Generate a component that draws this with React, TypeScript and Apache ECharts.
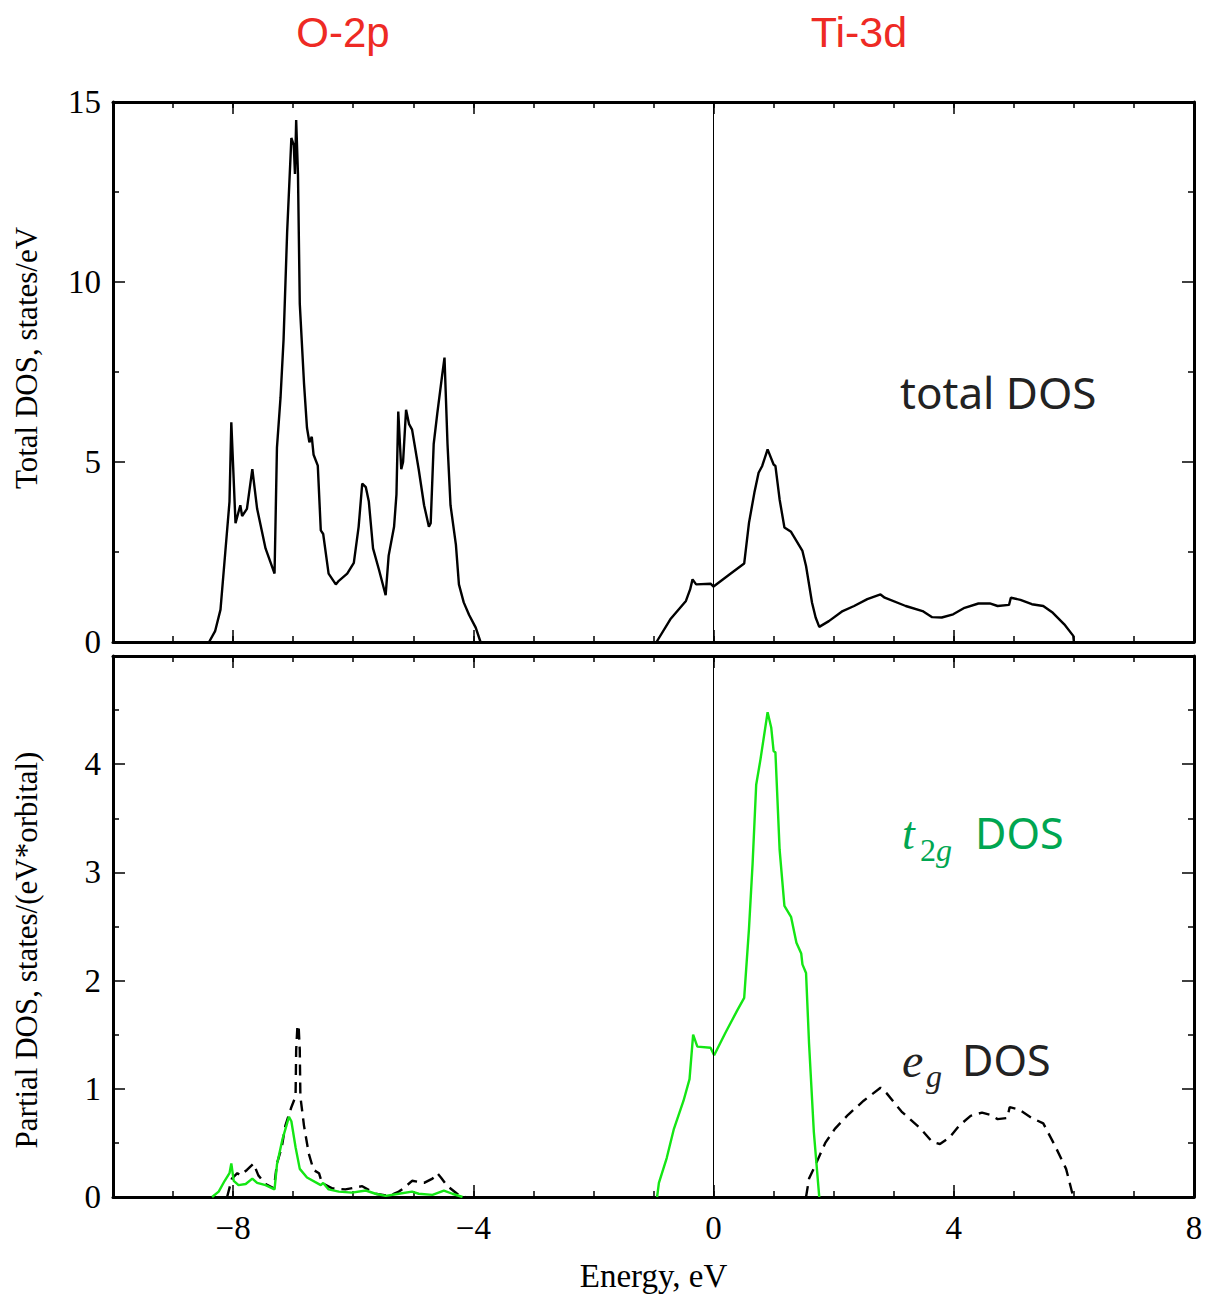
import React, { useEffect, useRef } from "react";
import * as echarts from "echarts";

// ---- data (Energy eV, DOS) ----
const totalO2p: [number, number][] = [
  [-8.4, 0], [-8.3, 0.3], [-8.21, 0.9], [-8.13, 2.5], [-8.06, 3.9], [-8.03, 6.1], [-7.96, 3.3],
  [-7.88, 3.8], [-7.85, 3.5], [-7.77, 3.7], [-7.68, 4.8], [-7.6, 3.7], [-7.46, 2.6], [-7.31, 1.9],
  [-7.27, 5.4], [-7.21, 6.8], [-7.16, 8.4], [-7.1, 11.4], [-7.03, 14.0], [-6.99, 13.8], [-6.97, 13.0],
  [-6.95, 14.5], [-6.92, 13.0], [-6.89, 9.4], [-6.82, 7.2], [-6.77, 5.95], [-6.73, 5.55], [-6.69, 5.7],
  [-6.66, 5.2], [-6.59, 4.9], [-6.54, 3.1], [-6.5, 3.0], [-6.41, 1.9], [-6.29, 1.6], [-6.24, 1.7],
  [-6.1, 1.9], [-5.99, 2.2], [-5.91, 3.2], [-5.85, 4.4], [-5.79, 4.3], [-5.74, 3.9], [-5.67, 2.6],
  [-5.57, 2.0], [-5.46, 1.3], [-5.41, 2.4], [-5.32, 3.2], [-5.28, 4.1], [-5.25, 6.4], [-5.2, 4.8],
  [-5.17, 5.0], [-5.12, 6.45], [-5.07, 6.05], [-5.02, 5.9], [-4.91, 4.8], [-4.82, 3.8], [-4.74, 3.2],
  [-4.71, 3.3], [-4.66, 5.5], [-4.6, 6.35], [-4.52, 7.4], [-4.48, 7.9], [-4.43, 5.5], [-4.38, 3.8],
  [-4.29, 2.7], [-4.24, 1.6], [-4.16, 1.1], [-4.07, 0.75], [-3.96, 0.4], [-3.88, 0],
];

const totalTi3d: [number, number][] = [
  [-0.95, 0], [-0.72, 0.63], [-0.46, 1.14], [-0.39, 1.46], [-0.35, 1.74], [-0.29, 1.6], [-0.05, 1.62],
  [0, 1.54], [0.27, 1.88], [0.51, 2.18], [0.59, 3.31], [0.68, 4.15], [0.75, 4.7], [0.81, 4.89],
  [0.9, 5.35], [1.0, 4.93], [1.03, 4.89], [1.1, 3.96], [1.18, 3.18], [1.29, 3.06], [1.38, 2.81],
  [1.48, 2.53], [1.54, 2.11], [1.64, 1.09], [1.7, 0.68], [1.76, 0.42], [1.92, 0.58], [2.15, 0.86],
  [2.34, 1.0], [2.56, 1.19], [2.78, 1.32], [2.85, 1.23], [3.2, 1.0], [3.48, 0.86], [3.64, 0.69],
  [3.8, 0.68], [3.99, 0.77], [4.18, 0.95], [4.41, 1.07], [4.6, 1.07], [4.73, 1.0], [4.92, 1.03],
  [4.95, 1.23], [5.11, 1.17], [5.3, 1.05], [5.49, 1.0], [5.65, 0.81], [5.84, 0.49], [5.99, 0.17], [6.0, 0],
];

const t2gO2p: [number, number][] = [
  [-8.35, 0], [-8.24, 0.05], [-8.14, 0.15], [-8.06, 0.22], [-8.03, 0.31], [-7.99, 0.15], [-7.91, 0.11],
  [-7.79, 0.12], [-7.68, 0.17], [-7.6, 0.13], [-7.46, 0.11], [-7.31, 0.07], [-7.27, 0.3], [-7.18, 0.53],
  [-7.07, 0.74], [-7.03, 0.7], [-6.96, 0.46], [-6.89, 0.26], [-6.77, 0.18], [-6.54, 0.11], [-6.5, 0.13],
  [-6.41, 0.07], [-6.24, 0.05], [-6.02, 0.04], [-5.79, 0.06], [-5.63, 0.03], [-5.46, 0.01], [-5.24, 0.03],
  [-5.02, 0.05], [-4.91, 0.03], [-4.68, 0.02], [-4.49, 0.06], [-4.35, 0.03], [-4.18, 0],
];

const t2gTi3d: [number, number][] = [
  [-0.94, 0], [-0.91, 0.13], [-0.78, 0.36], [-0.66, 0.63], [-0.5, 0.89], [-0.4, 1.09], [-0.34, 1.5],
  [-0.27, 1.39], [-0.05, 1.38], [0.01, 1.31], [0.2, 1.52], [0.39, 1.72], [0.51, 1.84], [0.59, 2.48],
  [0.65, 3.08], [0.71, 3.81], [0.78, 4.04], [0.9, 4.48], [0.96, 4.34], [1.0, 4.12], [1.03, 4.11],
  [1.1, 3.21], [1.18, 2.69], [1.29, 2.59], [1.38, 2.35], [1.46, 2.25], [1.48, 2.15], [1.54, 2.07],
  [1.59, 1.42], [1.67, 0.6], [1.76, 0],
];

const egO2p: [number, number][] = [
  [-8.1, 0], [-8.02, 0.17], [-7.93, 0.22], [-7.88, 0.2], [-7.77, 0.25], [-7.66, 0.31], [-7.58, 0.2],
  [-7.46, 0.12], [-7.32, 0.08], [-7.27, 0.31], [-7.19, 0.46], [-7.13, 0.66], [-7.03, 0.83], [-6.96, 0.93],
  [-6.95, 1.36], [-6.93, 1.57], [-6.91, 1.59], [-6.89, 1.36], [-6.88, 0.93], [-6.82, 0.66], [-6.74, 0.4],
  [-6.66, 0.25], [-6.57, 0.22], [-6.52, 0.13], [-6.35, 0.08], [-6.13, 0.07], [-5.85, 0.1], [-5.63, 0.03],
  [-5.41, 0.01], [-5.24, 0.05], [-5.16, 0.08], [-5.02, 0.15], [-4.82, 0.13], [-4.68, 0.17], [-4.6, 0.22],
  [-4.54, 0.18], [-4.43, 0.1], [-4.27, 0.03], [-4.13, 0],
];

const egTi3d: [number, number][] = [
  [1.54, 0], [1.59, 0.17], [1.7, 0.3], [1.86, 0.5], [2.02, 0.63], [2.24, 0.76], [2.5, 0.89],
  [2.78, 1.01], [2.88, 0.96], [3.13, 0.79], [3.45, 0.63], [3.64, 0.51], [3.77, 0.49], [3.93, 0.55],
  [4.09, 0.66], [4.28, 0.75], [4.47, 0.78], [4.6, 0.76], [4.73, 0.72], [4.89, 0.73], [4.93, 0.83],
  [5.08, 0.81], [5.3, 0.73], [5.49, 0.68], [5.68, 0.48], [5.87, 0.26], [5.99, 0],
];

const xMajorTicks = [-8, -4, 0, 4, 8];
const panelTitles = ["O-2p", "Ti-3d"];
const yNameTop = "Total DOS, states/eV";
const yNameBottom = "Partial DOS, states/(eV*orbital)";
const xName = "Energy, eV";

const SERIF = "'Liberation Serif', 'Times New Roman', serif";
const SANS = "'Liberation Sans', Arial, sans-serif";
const LABSANS = "'Noto Sans', 'DejaVu Sans', sans-serif";

const fmtNum = (v: number) => (v < 0 ? "\u2212" + Math.abs(v) : String(v));

function xAxesFor(gridIndex: number, labels: boolean): any[] {
  const base = {
    type: "value",
    gridIndex,
    min: -10,
    max: 8,
    interval: 1,
    splitLine: { show: false },
  };
  const minor = (position: string) => ({
    ...base,
    position,
    axisLine: { show: true, onZero: false, lineStyle: { color: "#000", width: 3 } },
    axisTick: { show: true, inside: true, length: 6, lineStyle: { color: "#000", width: 1.5 } },
    axisLabel: { show: false },
  });
  const major = (position: string, withLabel: boolean) => ({
    ...base,
    position,
    axisLine: { show: false, onZero: false },
    axisTick: {
      show: true,
      inside: true,
      length: 12,
      customValues: xMajorTicks,
      lineStyle: { color: "#000", width: 1.5 },
    },
    axisLabel: withLabel
      ? {
          show: true,
          customValues: xMajorTicks,
          margin: 14,
          fontFamily: SERIF,
          fontSize: 33,
          color: "#000",
          formatter: (v: number) => fmtNum(v),
        }
      : { show: false },
    name: withLabel ? xName : "",
    nameLocation: "middle",
    nameGap: 62,
    nameTextStyle: { fontFamily: SERIF, fontSize: 33, color: "#000" },
  });
  return [minor("bottom"), major("bottom", labels), minor("top"), major("top", false)];
}

function yAxesFor(gridIndex: number, max: number, interval: number, hideMax: boolean): any[] {
  const common = {
    type: "value",
    gridIndex,
    min: 0,
    max,
    interval,
    splitLine: { show: false },
    axisLine: { show: true, onZero: false, lineStyle: { color: "#000", width: 3 } },
    axisTick: { show: true, inside: true, length: 12, lineStyle: { color: "#000", width: 1.5 } },
    minorTick: { show: true, splitNumber: 2, length: 6, lineStyle: { color: "#000", width: 1.5 } },
  };
  return [
    {
      ...common,
      position: "left",
      axisLabel: {
        show: true,
        margin: 12,
        fontFamily: SERIF,
        fontSize: 33,
        color: "#000",
        formatter: (v: number) => (hideMax && v === max ? "" : fmtNum(v)),
      },
    },
    { ...common, position: "right", axisLabel: { show: false } },
  ];
}

const zeroLine = {
  silent: true,
  symbol: "none",
  label: { show: false },
  lineStyle: { color: "#000", width: 1, type: "solid" },
  data: [{ xAxis: 0 }],
};

function lineSeries(data: [number, number][], xi: number, yi: number, color: string, dashed: boolean, mark?: any) {
  return {
    type: "line",
    xAxisIndex: xi,
    yAxisIndex: yi,
    data,
    showSymbol: false,
    symbol: "none",
    smooth: false,
    lineStyle: { color, width: 2.4, type: dashed ? [11, 7] : "solid" },
    z: 3,
    ...(mark ? { markLine: mark } : {}),
  };
}

export default function App() {
  const ref = useRef<HTMLDivElement>(null);
  useEffect(() => {
    if (!ref.current) return;
    const chart = echarts.init(ref.current, null, { renderer: "svg" });
    const green = "#14e614";
    const option: any = {
      animation: false,
      backgroundColor: "#fff",
      grid: [
        { left: 113, top: 102, width: 1081, height: 540 },
        { left: 113, top: 656, width: 1081, height: 541 },
      ],
      xAxis: [...xAxesFor(0, false), ...xAxesFor(1, true)],
      yAxis: [...yAxesFor(0, 15, 5, false), ...yAxesFor(1, 5, 1, true)],
      series: [
        lineSeries(totalO2p, 0, 0, "#000", false, zeroLine),
        lineSeries(totalTi3d, 0, 0, "#000", false),
        lineSeries(egO2p, 4, 2, "#000", true, zeroLine),
        lineSeries(egTi3d, 4, 2, "#000", true),
        lineSeries(t2gO2p, 4, 2, green, false),
        lineSeries(t2gTi3d, 4, 2, green, false),
      ],
      graphic: [
        {
          type: "text",
          x: 343,
          y: 32,
          style: { text: panelTitles[0], font: `42px ${SANS}`, fill: "#ee2a24", align: "center", verticalAlign: "middle" },
        },
        {
          type: "text",
          x: 859,
          y: 32,
          style: { text: panelTitles[1], font: `43px ${SANS}`, fill: "#ee2a24", align: "center", verticalAlign: "middle" },
        },
        {
          type: "text",
          x: 26,
          y: 358,
          rotation: Math.PI / 2,
          style: { text: yNameTop, font: `31px ${SERIF}`, fill: "#000", align: "center", verticalAlign: "middle" },
        },
        {
          type: "text",
          x: 26,
          y: 950,
          rotation: Math.PI / 2,
          style: { text: yNameBottom, font: `31px ${SERIF}`, fill: "#000", align: "center", verticalAlign: "middle" },
        },
        {
          type: "text",
          x: 900,
          y: 392,
          style: { text: "total DOS", font: `44px ${LABSANS}`, fill: "#222", align: "left", verticalAlign: "middle" },
        },
        // t2g DOS
        {
          type: "text",
          x: 902,
          y: 833,
          style: { text: "t", font: `italic 46px ${SERIF}`, fill: "#00a651", align: "left", verticalAlign: "middle" },
        },
        {
          type: "text",
          x: 920,
          y: 850,
          style: {
            text: "{a|2}{b|g}",
            align: "left",
            verticalAlign: "middle",
            rich: {
              a: { font: `32px ${SERIF}`, fill: "#00a651" },
              b: { font: `italic 32px ${SERIF}`, fill: "#00a651" },
            },
          },
        },
        {
          type: "text",
          x: 975,
          y: 832,
          style: { text: "DOS", font: `43px ${LABSANS}`, fill: "#00a651", align: "left", verticalAlign: "middle" },
        },
        // eg DOS
        {
          type: "text",
          x: 902,
          y: 1060,
          style: { text: "e", font: `italic 48px ${SERIF}`, fill: "#222", align: "left", verticalAlign: "middle" },
        },
        {
          type: "text",
          x: 926,
          y: 1076,
          style: { text: "g", font: `italic 32px ${SERIF}`, fill: "#222", align: "left", verticalAlign: "middle" },
        },
        {
          type: "text",
          x: 962,
          y: 1059,
          style: { text: "DOS", font: `43px ${LABSANS}`, fill: "#222", align: "left", verticalAlign: "middle" },
        },
      ],
    };
    chart.setOption(option);
    return () => chart.dispose();
  }, []);
  return (
    <div
      ref={ref}
      style={{ position: "absolute", left: 0, top: 0, width: 1206, height: 1296, background: "#fff" }}
    />
  );
}
